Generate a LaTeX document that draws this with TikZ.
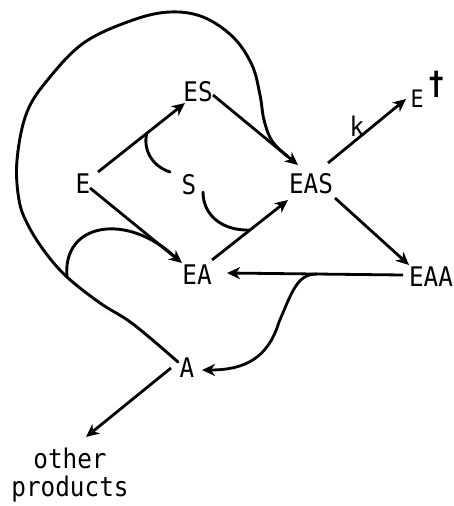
\documentclass[tikz,border=0pt]{standalone}
\usepackage{fontspec}
\setmonofont[FakeStretch=0.9]{DejaVu Sans Mono}
\usetikzlibrary{arrows.meta,calc}
\begin{document}
\begin{tikzpicture}[x=1pt,y=-1pt,
  lbl/.style={font=\ttfamily\fontsize{27}{28}\selectfont, inner sep=0pt},
  arr/.style={line width=2.8pt, -{Stealth[length=13pt,width=12pt,inset=4pt]}},
  crv/.style={line width=2.9pt, line cap=round}]
\useasboundingbox (0,0) rectangle (453,506);
% nodes
\node[lbl] (E)   at (83,184)  {E};
\node[lbl] (ES)  at (198,92)  {ES};
\node[lbl] (S)   at (189,185) {S};
\node[lbl] (EAS) at (311,184) {EAS};
\node[lbl, font=\ttfamily\fontsize{24}{25}\selectfont] (Ed) at (417,99)
   {E\rlap{\hspace{4pt}\smash{\raisebox{13pt}{\fontsize{32}{32}\selectfont\bfseries †}}}};
\node[lbl] (k)   at (357,126) {k};
\node[lbl] (EA)  at (197,275) {EA};
\node[lbl] (EAA) at (431,277) {EAA};
\node[lbl] (A)   at (187,368) {A};
\node[lbl, align=center] (op) at (70,475) {other\\products};
% arrow end points
\coordinate (a1) at ([shift={(15,-12)}]E.center);
\coordinate (b1) at ([shift={(-13,11)}]ES.center);
\coordinate (a2) at ([shift={(15,3)}]ES.center);
\coordinate (b2) at ([shift={(-13,-19)}]EAS.center);
\coordinate (a3) at ([shift={(7,4)}]E.center);
\coordinate (b3) at ([shift={(-15,-12)}]EA.center);
\coordinate (a4) at ([shift={(15,-15)}]EA.center);
\coordinate (b4) at ([shift={(-23,16)}]EAS.center);
\coordinate (a5) at ([shift={(17,-21)}]EAS.center);
\coordinate (b5) at ([shift={(-11,0)}]Ed.center);
\coordinate (a6) at ([shift={(24,14)}]EAS.center);
\coordinate (b6) at ([shift={(-22,-12)}]EAA.center);
\coordinate (a7) at ([shift={(-28,-2)}]EAA.center);
\coordinate (b7) at ([shift={(30,-2)}]EA.center);
\coordinate (a8) at ([shift={(-16,0)}]A.center);
\coordinate (b8) at ([shift={(16,-38)}]op.center);
% straight arrows
\draw[arr] (a1) -- (b1);
\draw[arr] (a2) -- (b2);
\draw[arr] (a3) -- (b3);
\draw[arr] (a4) -- (b4);
\draw[arr] (a5) -- (b5);
\draw[arr] (a6) -- (b6);
\draw[arr] (a7) -- (b7);
\draw[arr] (a8) -- (b8);
% S curves
\coordinate (s1) at ([shift={(-19,-13)}]S.center);
\coordinate (q1) at ($(a1)!0.56!(b1)$);
\draw[crv] (s1) .. controls (152,166) and (143,150) .. (q1);
\coordinate (s2) at ([shift={(14,7)}]S.center);
\coordinate (q2) at ($(a4)!0.5!(b4)$);
\draw[crv] (s2) .. controls (203,215) and (222,231) .. (q2);
% curve from EAA->EA line to A
\coordinate (c1) at ($(a7)!0.49!(b7)$);
\coordinate (c2) at ([shift={(15,2)}]A.center);
\draw[crv, arr] (c1) .. controls (297,274) and (292,292) .. (279,322)
   .. controls (268,358) and (245,370) .. (c2);
% big loop from EAS arrow to A
\coordinate (bs) at ($(a2)!0.88!(b2)$);
\coordinate (bl) at (67,277);
\coordinate (be) at ([shift={(-9,-6)}]A.center);
\draw[crv] plot[smooth, tension=0.6] coordinates {(bs) (272,141) (264,120) (260,95)
  (252,65) (233,37) (203,17) (170,12) (133,20) (85,42) (50,77) (27,112) (17,160)
  (19,200) (28,225) (45,252) (bl) (100,303) (133,324) (be)};
% small loop
\draw[crv] (bl) .. controls (62,222) and (128,212) .. (176,258);
\end{tikzpicture}
\end{document}
